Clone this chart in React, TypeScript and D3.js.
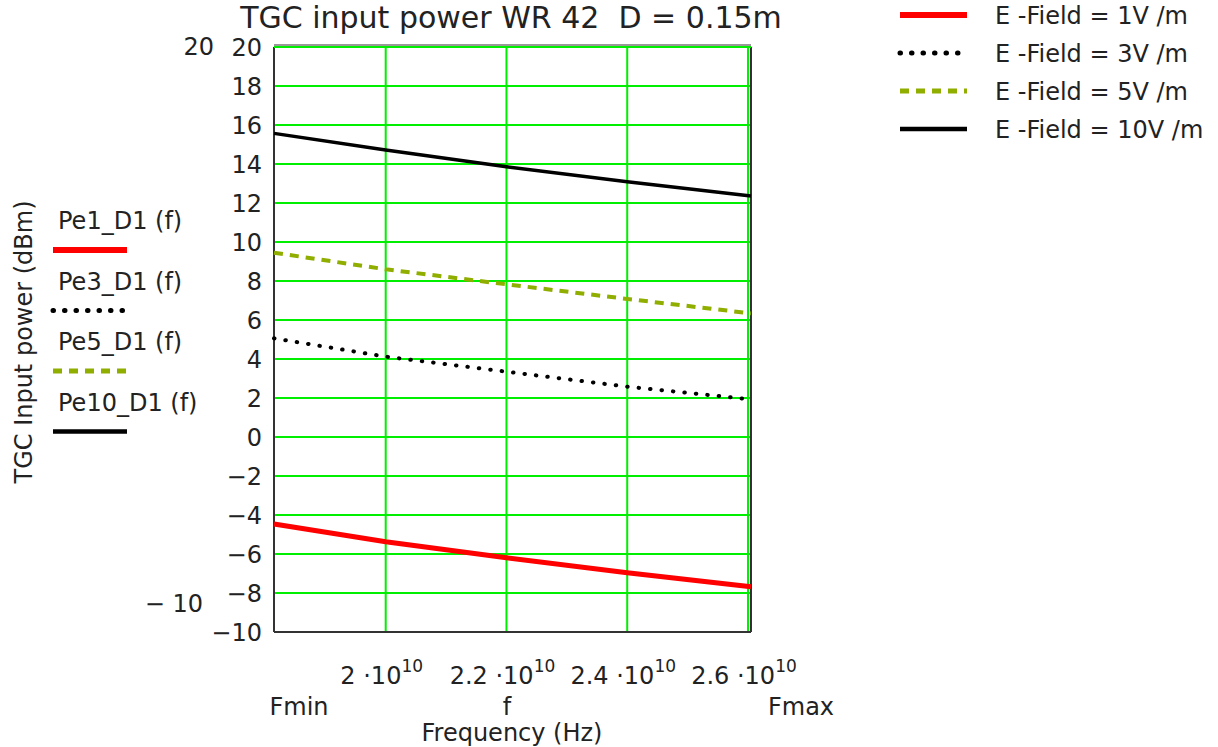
import * as d3 from "d3";

// frequency sample points (Hz): Fmin, grid lines, Fmax
const freqs = [1.815e10, 2.0e10, 2.2e10, 2.4e10, 2.605e10];
const pe1 = [-4.46, -5.37, -6.19, -6.96, -7.68];
const pe3 = [5.06, 4.12, 3.35, 2.58, 1.93];
const pe5 = [9.45, 8.6, 7.83, 7.08, 6.34];
const pe10 = [15.57, 14.72, 13.86, 13.09, 12.36];

const xTicks = [2.0e10, 2.2e10, 2.4e10, 2.6e10];
const xTickMant = ["2", "2.2", "2.4", "2.6"];
const yTicks = d3.range(-10, 21, 2);

const legendLeft = ["Pe1_D1 (f)", "Pe3_D1 (f)", "Pe5_D1 (f)", "Pe10_D1 (f)"];
const legendRight = ["E -Field = 1V /m", "E -Field = 3V /m", "E -Field = 5V /m", "E -Field = 10V /m"];

const series = [
  {vals: pe1, color: "#ff0000", width: 5, dash: null, cap: "butt"},
  {vals: pe3, color: "#000000", width: 4, dash: "0.5 11", cap: "round"},
  {vals: pe5, color: "#8fae00", width: 4, dash: "9 7", cap: "butt"},
  {vals: pe10, color: "#000000", width: 3.5, dash: null, cap: "butt"},
];

const FONT = "'DejaVu Sans', sans-serif";
const TXT = "#222";

export default function App() {
  const left = 274, right = 751, top = 47, bottom = 632;

  const x = d3.scaleLinear().domain([1.815e10, 2.605e10]).range([left, right]);
  const y = d3.scaleLinear().domain([-10, 20]).range([bottom, top]);

  const line = d3.line<[number, number]>()
    .x(d => x(d[0]))
    .y(d => y(d[1]));

  return (
    <svg width={1218} height={747} style={{position: "absolute", left: 0, top: 0, background: "#fff"}}
         fontFamily={FONT}>
      <text x={511} y={28} textAnchor="middle" fontSize={30} fill={TXT}>
        TGC input power WR 42{"\u00a0\u00a0"}D = 0.15m
      </text>

      {/* grid */}
      {yTicks.map(t => (
        <line key={"gy" + t} x1={left} x2={right} y1={y(t)} y2={y(t)} stroke="#00ee00" strokeWidth={2}/>
      ))}
      {xTicks.map(t => (
        <line key={"gx" + t} x1={x(t)} x2={x(t)} y1={top} y2={bottom} stroke="#00ee00" strokeWidth={2}/>
      ))}
      {/* frame */}
      <line x1={left} x2={left} y1={top} y2={bottom} stroke="#333" strokeWidth={2}/>
      <line x1={right} x2={right} y1={top} y2={bottom} stroke="#333" strokeWidth={2}/>
      <line x1={left} x2={right} y1={bottom} y2={bottom} stroke="#333" strokeWidth={2}/>
      <line x1={left} x2={right} y1={top - 2} y2={top - 2} stroke="#333" strokeWidth={1}/>
      <line x1={left} x2={right} y1={top} y2={top} stroke="#00ee00" strokeWidth={2}/>

      {/* y tick labels */}
      {yTicks.map(t => (
        <text key={"yl" + t} x={262} y={y(t) + 9} textAnchor="end" fontSize={24} fill={TXT}>
          {t < 0 ? "\u2212" + Math.abs(t) : t}
        </text>
      ))}
      <text x={214} y={55} textAnchor="end" fontSize={24} fill={TXT}>20</text>
      <text x={203} y={612} textAnchor="end" fontSize={24} fill={TXT}>{"\u2212 10"}</text>

      {/* x tick labels */}
      {xTicks.map((t, i) => (
        <text key={"xl" + t} x={x(t) - 4} y={684} textAnchor="middle" fontSize={24} fill={TXT}>
          {xTickMant[i]} ·10<tspan dy={-12} fontSize={17}>10</tspan>
        </text>
      ))}
      <text x={299} y={715} textAnchor="middle" fontSize={24} fill={TXT}>Fmin</text>
      <text x={507} y={715} textAnchor="middle" fontSize={24} fill={TXT}>f</text>
      <text x={801} y={715} textAnchor="middle" fontSize={24} fill={TXT}>Fmax</text>
      <text x={512} y={741} textAnchor="middle" fontSize={24} fill={TXT}>Frequency (Hz)</text>

      <text transform="translate(32,342) rotate(-90)" textAnchor="middle" fontSize={24} fill={TXT}>
        TGC Input power (dBm)
      </text>

      {/* series */}
      {series.map((s, i) => (
        <path key={"s" + i}
              d={line(freqs.map((f, j) => [f, s.vals[j]] as [number, number])) || ""}
              fill="none" stroke={s.color} strokeWidth={s.width}
              strokeDasharray={s.dash || undefined} strokeLinecap={s.cap as any}/>
      ))}

      {/* left legend */}
      {legendLeft.map((name, i) => {
        const s = series[i];
        const ty = 229 + i * 60.5;
        return (
          <g key={"ll" + i}>
            <text x={58} y={ty} fontSize={24} fill={TXT}>{name}</text>
            <line x1={53} x2={127} y1={ty + 21} y2={ty + 21} stroke={s.color} strokeWidth={s.width + 1}
                  strokeDasharray={s.dash || undefined} strokeLinecap={s.cap as any}/>
          </g>
        );
      })}

      {/* right legend */}
      {legendRight.map((name, i) => {
        const s = series[i];
        const ly = 15 + i * 38;
        return (
          <g key={"rl" + i}>
            <line x1={900} x2={967} y1={ly} y2={ly} stroke={s.color} strokeWidth={s.width + 1}
                  strokeDasharray={s.dash || undefined} strokeLinecap={s.cap as any}/>
            <text x={995} y={ly + 9} fontSize={24} fill={TXT}>{name}</text>
          </g>
        );
      })}
    </svg>
  );
}
